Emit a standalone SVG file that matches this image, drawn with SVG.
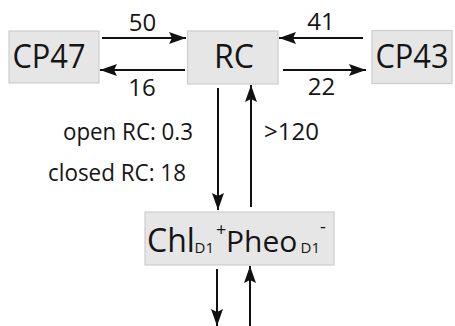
<svg xmlns="http://www.w3.org/2000/svg" width="455" height="326" viewBox="0 0 455 326">
  <defs>
    <style>
      .box { fill: #e6e6e6; stroke: #cdcdcd; stroke-width: 1.2; }
      text { font-family: "Open Sans", "Noto Sans", sans-serif; fill: #151515; }
      .name { font-size: 32px; }
      .lbl { font-size: 24px; }
      .sm { font-size: 15px; }
      .sup { font-size: 18px; }
      .edge { stroke: #111; stroke-width: 2; fill: none; marker-end: url(#head); }
    </style>
    <marker id="head" markerUnits="userSpaceOnUse" markerWidth="18" markerHeight="12" refX="17" refY="6" orient="auto">
      <path d="M0,0 L17,6 L0,12 L3,6 Z" fill="#111"/>
    </marker>
  </defs>

  <g id="cp47">
    <rect class="box" x="9" y="31" width="90" height="52"/>
    <text class="name" x="49" y="68" text-anchor="middle" textLength="73" lengthAdjust="spacingAndGlyphs">CP47</text>
  </g>
  <g id="rc">
    <rect class="box" x="187.5" y="31" width="90.5" height="53"/>
    <text class="name" x="234" y="68" text-anchor="middle">RC</text>
  </g>
  <g id="cp43">
    <rect class="box" x="372" y="30.5" width="80" height="53"/>
    <text class="name" x="412" y="68" text-anchor="middle" textLength="73" lengthAdjust="spacingAndGlyphs">CP43</text>
  </g>
  <g id="chl-pheo">
    <rect class="box" x="145" y="212" width="189" height="53"/>
    <!-- radical pair: Chl(D1)+ Pheo(D1)- with sub/superscripts placed explicitly -->
    <text class="name" font-size="31"><tspan x="147" y="252">Chl</tspan><tspan class="sm" x="194.5" y="253">D1</tspan><tspan class="sup" x="216" y="235.5">+</tspan><tspan x="226" y="252" font-size="30">Pheo</tspan><tspan class="sm" x="300.5" y="253">D1</tspan><tspan class="sup" x="320" y="233">-</tspan></text>
  </g>

  <g id="connectors">
    <line class="edge" x1="102" y1="38" x2="186" y2="38"/>
    <line class="edge" x1="185" y1="70" x2="100" y2="70"/>
    <line class="edge" x1="363" y1="38" x2="279" y2="38"/>
    <line class="edge" x1="283" y1="70" x2="366" y2="70"/>
    <line class="edge" x1="218" y1="88" x2="218" y2="210"/>
    <line class="edge" x1="251" y1="207" x2="251" y2="85"/>
    <line class="edge" x1="217" y1="269" x2="217" y2="326"/>
    <line class="edge" x1="250" y1="326" x2="250" y2="266"/>
  </g>

  <g id="labels">
    <text class="lbl" x="142.5" y="31" text-anchor="middle">50</text>
    <text class="lbl" x="142" y="96" text-anchor="middle">16</text>
    <text class="lbl" x="321" y="30" text-anchor="middle">41</text>
    <text class="lbl" x="321.5" y="95" text-anchor="middle">22</text>
    <text class="lbl" x="193" y="139.5" text-anchor="end" textLength="130" lengthAdjust="spacingAndGlyphs">open RC: 0.3</text>
    <text class="lbl" x="186" y="181" text-anchor="end" textLength="138" lengthAdjust="spacingAndGlyphs">closed RC: 18</text>
    <text class="lbl" x="264" y="140">&gt;120</text>
  </g>
</svg>
